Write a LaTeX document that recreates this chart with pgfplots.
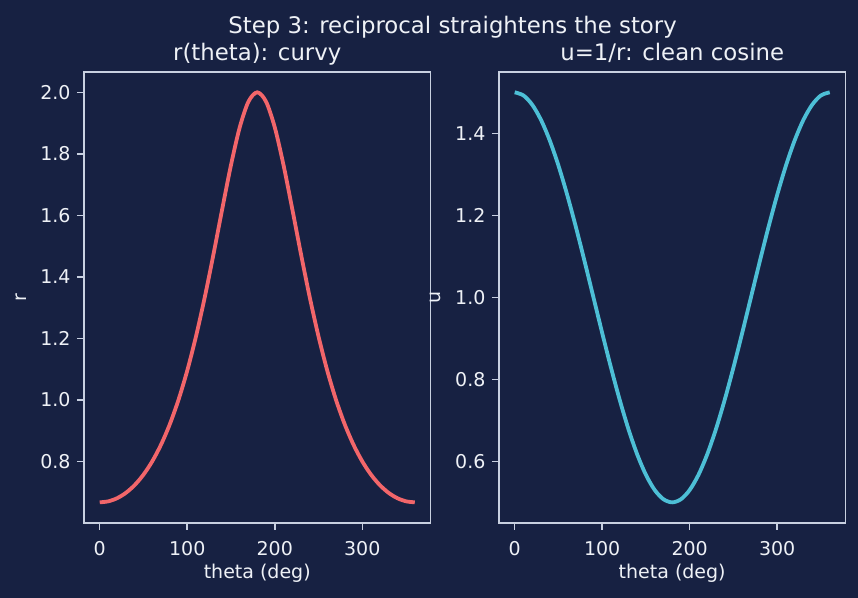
\documentclass[border=0pt]{standalone}
\usepackage{fontspec}
\setmainfont{DejaVu Sans}
\usepackage{pgfplots}
\pgfplotsset{compat=1.18}

\definecolor{bgnavy}{HTML}{172142}
\definecolor{spine}{HTML}{C8D0E0}
\definecolor{inktext}{HTML}{EEF1F6}
\definecolor{rline}{HTML}{F2666A}
\definecolor{uline}{HTML}{4DBFD6}

\pgfplotsset{
  panel/.style={
    scale only axis,
    width=182.4pt, height=237.4pt,
    xmin=-18, xmax=378,
    axis line style={spine, line width=0.8pt},
    tick style={spine, line width=0.8pt},
    tick align=outside,
    major tick length=3.7pt,
    xtick pos=lower, ytick pos=left,
    xtick={0,100,200,300},
    /pgf/number format/assume math mode=true,
    ticklabel style={font=\fontsize{10}{12}\selectfont, text=inktext},
    xticklabel style={anchor=base, inner sep=0pt, yshift=-13.7pt},
    yticklabel style={anchor=east, inner sep=0pt, xshift=-3.2pt,
      /pgf/number format/.cd, fixed, fixed zerofill, precision=1},
    label style={font=\fontsize{10}{12}\selectfont, text=inktext},
    xlabel={theta (deg)},
    xlabel style={at={(axis description cs:0.5,0)}, anchor=base, inner sep=0pt, yshift=-29.5pt},
    title style={font=\fontsize{12}{14}\selectfont, text=inktext,
      at={(axis description cs:0.5,1)}, anchor=base, inner sep=0pt, yshift=0pt},
  },
}

\begin{document}
\begin{tikzpicture}
  \fill[bgnavy] (0,0) rectangle (451.6pt,314.7pt);
  \node[anchor=base, inner sep=0pt, text=inktext, font=\fontsize{12}{14}\selectfont]
    at (238.2pt,296.9pt) {Step 3: reciprocal straightens the story};

  % left panel: r(theta)
  \begin{axis}[panel, at={(44.2pt,39.5pt)}, anchor=south west,
      ymin=0.6, ymax=2.0667,
      ytick={0.8,1.0,1.2,1.4,1.6,1.8,2.0},
      ylabel={r},
      ylabel style={at={([xshift=-30pt]axis description cs:0,0.5)}, anchor=base, inner sep=0pt},
      title={r(theta): curvy}]
    \addplot[rline, line width=2pt, smooth] coordinates {
      (0,0.66667) (10,0.67006) (20,0.68034) (30,0.69783) (40,0.72306)
      (50,0.75678) (60,0.80000) (70,0.85396) (80,0.92012) (90,1.00000)
      (100,1.09507) (110,1.20629) (120,1.33333) (130,1.47360) (140,1.62080)
      (150,1.76370) (160,1.88626) (170,1.97006) (180,2.00000)
      (190,1.97006) (200,1.88626) (210,1.76370) (220,1.62080) (230,1.47360)
      (240,1.33333) (250,1.20629) (260,1.09507) (270,1.00000) (280,0.92012)
      (290,0.85396) (300,0.80000) (310,0.75678) (320,0.72306) (330,0.69783)
      (340,0.68034) (350,0.67006) (360,0.66667)
    };
  \end{axis}

  % right panel: u = 1/r
  \begin{axis}[panel, at={(262.6pt,39.5pt)}, anchor=south west,
      ymin=0.45, ymax=1.55,
      ytick={0.6,0.8,1.0,1.2,1.4},
      ylabel={u},
      ylabel style={at={([xshift=-30.5pt]axis description cs:0,0.5)}, anchor=base, inner sep=0pt},
      title={u=1/r: clean cosine}]
    \addplot[uline, line width=2pt, smooth] coordinates {
      (0,1.50000) (10,1.49240) (20,1.46985) (30,1.43301) (40,1.38302)
      (50,1.32139) (60,1.25000) (70,1.17101) (80,1.08682) (90,1.00000)
      (100,0.91318) (110,0.82899) (120,0.75000) (130,0.67861) (140,0.61698)
      (150,0.56699) (160,0.53015) (170,0.50760) (180,0.50000)
      (190,0.50760) (200,0.53015) (210,0.56699) (220,0.61698) (230,0.67861)
      (240,0.75000) (250,0.82899) (260,0.91318) (270,1.00000) (280,1.08682)
      (290,1.17101) (300,1.25000) (310,1.32139) (320,1.38302) (330,1.43301)
      (340,1.46985) (350,1.49240) (360,1.50000)
    };
  \end{axis}
\end{tikzpicture}
\end{document}
